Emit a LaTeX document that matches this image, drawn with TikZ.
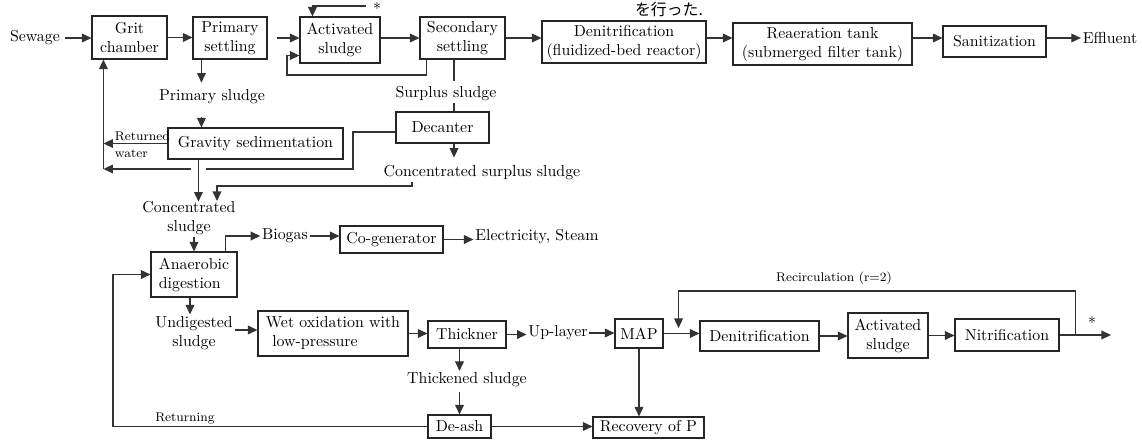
\documentclass[tikz,border=0pt]{standalone}
\usepackage{fontspec}
\usepackage{tikz}
\usetikzlibrary{arrows.meta}
\newfontfamily\jpfont{Noto Sans CJK JP}
\newcommand{\pxu}{0.63pt}

\begin{document}
\begin{tikzpicture}[x=\pxu, y=-\pxu,
		box/.style={draw=black!85, line width=0.7pt, inner sep=2pt, align=center},
		lbl/.style={inner sep=1pt, align=center},
		small/.style={inner sep=1pt, font=\footnotesize},
		arr/.style={draw=black!80, line width=0.7pt, -{Triangle[length=6pt,width=5.5pt]}},
		ln/.style={draw=black!80, line width=0.7pt}]
	\useasboundingbox (0,0) rectangle (1142,439);

	% main line
	\node[lbl] (sewage) at (35,38) {Sewage};
	\node[box, minimum width=75*\pxu, minimum height=43*\pxu] (grit) at (129.5,37.5) {Grit\\chamber};
	\node[box, minimum width=74*\pxu, minimum height=42*\pxu] (prim) at (230,38) {Primary\\settling};
	\node[box, minimum width=80*\pxu, minimum height=46*\pxu] (act1) at (340,40) {Activated\\sludge};
	\node[box, minimum width=85*\pxu, minimum height=42*\pxu] (sec) at (462.5,38) {Secondary\\settling};
	\node[box, minimum width=164*\pxu, minimum height=42*\pxu] (den1) at (624,42) {Denitrification\\(fluidized-bed reactor)};
	\node[box, minimum width=179*\pxu, minimum height=42*\pxu] (rea) at (822.5,44) {Reaeration tank\\(submerged filter tank)};
	\node[box, minimum width=103*\pxu, minimum height=31*\pxu] (san) at (994.5,41.5) {Sanitization};
	\node[lbl] (effluent) at (1110,38) {Effluent};
	\node[lbl] (star1) at (377,8.5) {*};
	\node[lbl, font=\jpfont, anchor=north] (jp) at (669,0.5) {を行った.};

	% sludge line
	\node[lbl] (psl) at (212,97) {Primary sludge};
	\node[box, minimum width=175*\pxu, minimum height=31*\pxu] (grav) at (255.5,143.5) {Gravity sedimentation};
	\node[small, align=left, anchor=west] (retw) at (113,144.5) {Returned\\[1.5pt]water};
	\node[lbl] (ssl) at (446,94) {Surplus sludge};
	\node[box, minimum width=93*\pxu, minimum height=31*\pxu] (dec) at (442.5,127.5) {Decanter};
	\node[lbl] (csl) at (482,173) {Concentrated surplus sludge};
	\node[lbl] (cs) at (189,218) {Concentrated\\sludge};
	\node[box, align=left, minimum width=86*\pxu, minimum height=45*\pxu] (ana) at (194,274.5) {Anaerobic\\digestion};
	\node[lbl] (biogas) at (285,236) {Biogas};
	\node[box, minimum width=103*\pxu, minimum height=27*\pxu] (cogen) at (391.5,239.5) {Co-generator};
	\node[lbl] (elec) at (537,237) {Electricity, Steam};

	% treatment of undigested sludge
	\node[lbl] (unds) at (194,333) {Undigested\\sludge};
	\node[box, align=left, minimum width=150*\pxu, minimum height=45*\pxu] (wet) at (333,333.5) {Wet oxidation with\\\hspace{0.4em}low-pressure};
	\node[box, minimum width=78*\pxu, minimum height=27*\pxu] (thk) at (467,334.5) {Thickner};
	\node[lbl] (upl) at (558,333) {Up-layer};
	\node[box, minimum width=48*\pxu, minimum height=29*\pxu] (map) at (639,333.5) {MAP};
	\node[box, minimum width=119*\pxu, minimum height=30*\pxu] (den2) at (759.5,336) {Denitrification};
	\node[box, minimum width=80*\pxu, minimum height=45*\pxu] (act2) at (888,335.5) {Activated\\sludge};
	\node[box, minimum width=104*\pxu, minimum height=32*\pxu] (nit) at (1007,335) {Nitrification};
	\node[lbl] (star2) at (1092,322.5) {*};
	\coordinate (outend) at (1111,335);
	\node[lbl] (thks) at (467,380) {Thickened sludge};
	\node[box, minimum width=63*\pxu, minimum height=23*\pxu] (deash) at (459.5,426.5) {De-ash};
	\node[box, minimum width=111*\pxu, minimum height=21*\pxu] (recp) at (648.5,427.5) {Recovery of P};
	\node[small] (retn) at (185,418) {Returning};
	\node[small] (recirc) at (834,278) {Recirculation (r=2)};

	% connectors, main line
	\draw[arr, shorten <=2pt] (sewage.east) -- (sewage.east -| grit.west);
	\draw[arr] (grit.east) -- (grit.east -| prim.west);
	\draw[arr] ([xshift=9*\pxu]prim.east) -- (prim.east -| act1.west);
	\draw[arr] (act1.east |- prim.east) -- (prim.east -| sec.west);
	\draw[arr] (sec.east) -- (sec.east -| den1.west);
	\draw[arr] (den1.east |- sec.east) -- (sec.east -| rea.west);
	\draw[arr] (rea.east |- sec.east) -- (sec.east -| san.west);
	\draw[arr] (san.east |- sec.east) -- (sec.east -| effluent.west);
	\coordinate (rl) at (287,75);
	\draw[arr] ([xshift=7*\pxu]sec.south west) |- (rl) |- ([yshift=8*\pxu]act1.south west);
	\coordinate (fb) at (366,6);
	\draw[arr] (fb) -| ([xshift=13*\pxu]act1.north west);

	% connectors, sludge
	\draw[arr] ([xshift=9*\pxu]prim.south west) -- ++(0,23);
	\coordinate (gx) at ([xshift=34*\pxu]grav.north west);
	\draw[arr, shorten <=7pt] (gx |- psl.south) -- (gx);
	\coordinate (gritp) at ([xshift=12*\pxu]grit.south west);
	\draw[arr] (grav.west) -- (grav.west -| gritp);
	\coordinate (dcor) at (353,169);
	\draw[arr] ([yshift=-4.5*\pxu]dec.west) -| (dcor) -- (dcor -| gritp);
	\draw[arr] (dcor -| gritp) -- (gritp);
	\fill[white] (191,165) rectangle (206,173);
	\draw[arr] ([xshift=31*\pxu]grav.south west) -- ++(0,42);
	\coordinate (decx) at ([xshift=11.5*\pxu]dec.north);
	\draw[ln] (sec.south -| decx) -- ++(0,21);
	\draw[ln] (ssl.south -| decx) -- (decx);
	\draw[arr] (decx |- dec.south) -- ++(0,14);
	\coordinate (cj) at (217,186);
	\draw[arr] ([xshift=-70*\pxu]csl.south) |- (cj) -- ++(0,15);
	\draw[arr] (cs.south -| ana.north) -- (ana.north);
	\draw[arr] ([xshift=-12*\pxu]ana.north east) |- (biogas.west);
	\draw[arr] (biogas.east) -- (biogas.east -| cogen.west);
	\draw[arr] (cogen.east) -- (cogen.east -| elec.west);

	% connectors, undigested sludge
	\draw[arr] ([xshift=-4*\pxu]ana.south) -- ([xshift=-4*\pxu]ana.south |- unds.north);
	\draw[arr] ([yshift=3*\pxu]unds.east) -- ([yshift=3*\pxu]unds.east -| wet.west);
	\draw[arr] (wet.east) -- (wet.east -| thk.west);
	\draw[arr] (thk.east) -- (thk.east -| upl.west);
	\draw[arr] (upl.east) -- (upl.east -| map.west);
	\draw[arr] (map.east) -- (map.east -| den2.west);
	\draw[arr] (den2.east) -- (den2.east -| act2.west);
	\draw[arr] (act2.east) -- (act2.east -| nit.west);
	\draw[arr] (nit.east) -- (outend);
	\draw[arr] ([xshift=16*\pxu]nit.east) -- ++(0,-44) -| ([xshift=15*\pxu,yshift=5.5*\pxu]map.east);
	\draw[arr] (deash.north |- thk.south) -- (deash.north |- thks.north);
	\draw[arr, shorten <=2pt] (thks.south -| deash.north) -- (deash.north);
	\draw[arr] (deash.east) -- (deash.east -| recp.west);
	\draw[arr] (map.south) -- (map.south |- recp.north);
	\coordinate (retx) at (113,0);
	\draw[arr] (deash.west) -- (deash.west -| retx) |- (ana.west);
\end{tikzpicture}
\end{document}
